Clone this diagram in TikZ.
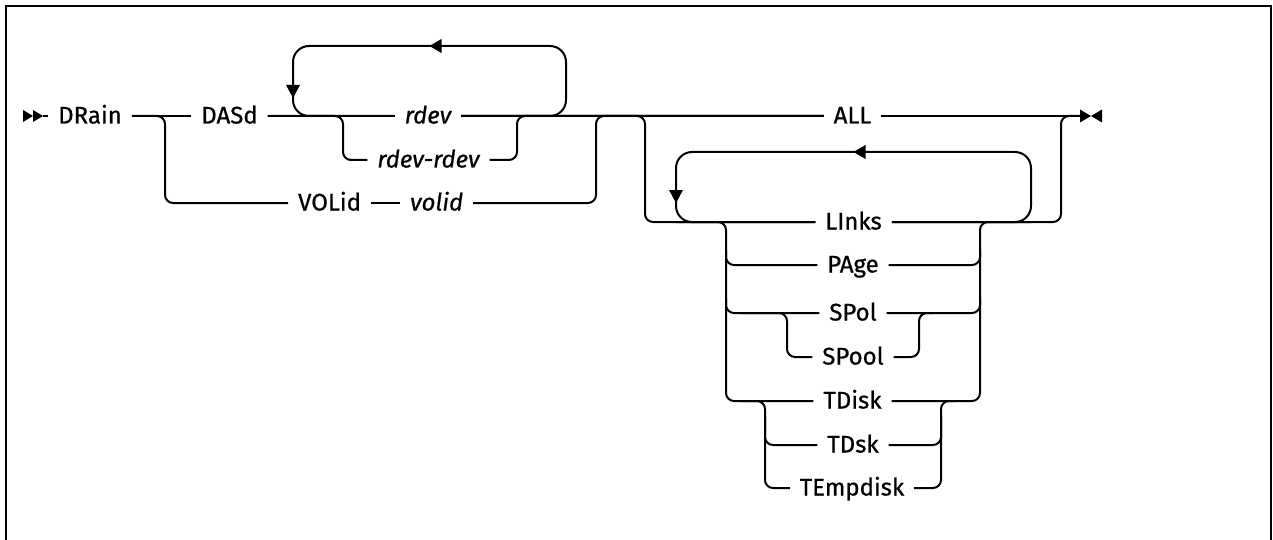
\documentclass[tikz,border=0pt]{standalone}
\usepackage{fontspec}
\newfontfamily\railfont{Fira Sans}[FakeBold=0.7]
\usetikzlibrary{calc}
\begin{document}
\begin{tikzpicture}[x=1pt,y=-1pt,line width=2pt,
  lbl/.style={font=\railfont\fontsize{24}{28}\selectfont, inner xsep=9pt, inner ysep=0pt, text height=15pt, text depth=0pt},
  var/.style={lbl, font=\railfont\fontsize{24}{28}\selectfont\itshape},
  rail/.style={draw, rounded corners=8pt},
  loopline/.style={draw, rounded corners=16pt}]
\clip (0,0) rectangle (1273,540);
\useasboundingbox (0,0) rectangle (1273,540);
% frame
\draw[line width=2.4pt] (6,560) -- (6,6) -- (1271,6) -- (1271,560);
% text nodes
\node[lbl] (drain) at (90,116) {DRain};
\node[lbl] (dasd) at (229.5,116) {DASd};
\node[var] (rdev) at (428,116) {rdev};
\node[var] (rdevr) at (428.5,160) {rdev-rdev};
\node[lbl, anchor=east] (volid) at (371,203) {VOLid};
\node[var, anchor=west] (volidv) at (400,203) {volid};
\node[lbl] (all) at (852.5,116) {ALL};
\node[lbl] (links) at (853.5,222) {LInks};
\node[lbl] (page) at (853,265) {PAge};
\node[lbl] (spol) at (853,313) {SPol};
\node[lbl] (spool) at (853,357) {SPool};
\node[lbl] (tdisk) at (852.5,401) {TDisk};
\node[lbl] (tdsk) at (853,445) {TDsk};
\node[lbl] (temp) at (852,488) {TEmpdisk};
% junction coordinates
\coordinate (start) at (43,116);
\coordinate (end) at (1080,116);
\coordinate (j1) at (165,116);
\coordinate (j2) at (596,116);
\coordinate (j3) at (343,116);
\coordinate (j4) at (517,116);
\coordinate (j5) at (645,116);
\coordinate (j6) at (1061,116);
\coordinate (l1a) at (293,46);
\coordinate (l1b) at (566,46);
\coordinate (l2a) at (676,152);
\coordinate (l2b) at (1031,152);
\coordinate (k1) at (726,222);
\coordinate (k2) at (980,222);
\coordinate (s1) at (787,313);
\coordinate (s2) at (919,313);
\coordinate (t1) at (765,401);
\coordinate (t2) at (941,401);
% start marker
\fill (23,110) -- (23,122) -- (33,116) -- cycle;
\fill (33,110) -- (33,122) -- (start) -- cycle;
% main line
\draw (start) -- (drain.west);
\draw (drain.east) -- (dasd.west);
\draw (dasd.east) -- (rdev.west);
\draw (rdev.east) -- (all.west);
\draw (all.east) -- (end);
% end marker
\fill (end) ++(0,-6.5) -- ++(0,13) -- ++(11,-6.5) -- cycle;
\fill (end) ++(22,-6.5) -- ++(0,13) -- ++(-11,-6.5) -- cycle;
% DASd / VOLid choice
\draw[rail] (drain.east) -- (j1) |- (volid.west);
\draw (volid.east) -- (volidv.west);
\draw[rail] (volidv.east) -| (j2) -- (all.west);
% repeat loop over rdev
\draw[loopline] (rdev.east) -| (l1b) -- (l1a) |- (rdev.west);
\fill ($(l1a)!0.5!(l1b)$) -- ++(12,-7) -- ++(0,14) -- cycle;
\fill ($(l1a|-rdev)+(0,-18)$) -- ++(-7,-13) -- ++(14,0) -- cycle;
% rdev / rdev-rdev choice
\draw[rail] (dasd.east) -- (j3) |- (rdevr.west);
\draw[rail] (rdevr.east) -| (j4) -- (all.west);
% ALL / list choice
\draw[rail] (rdev.east) -- (j5) |- (links.west);
\draw[rail] (links.east) -| (j6) -- (end);
% repeat loop over list
\draw[loopline] (links.east) -| (l2b) -- (l2a) |- (links.west);
\fill ($(l2a)!0.5!(l2b)$) -- ++(12,-7) -- ++(0,14) -- cycle;
\fill ($(l2a|-links)+(0,-19)$) -- ++(-7,-13) -- ++(14,0) -- cycle;
% stack
\draw[rail] (l2a|-links) -- (k1) |- (tdisk.west);
\draw[rail] (tdisk.east) -| (k2) -- (l2b|-links);
\draw[rail] ($(k1|-page)+(0,-15)$) |- (page.west);
\draw[rail] (page.east) -| ($(k2|-page)+(0,-15)$);
\draw[rail] ($(k1|-spol)+(0,-15)$) |- (spol.west);
\draw[rail] (spol.east) -| ($(k2|-spol)+(0,-15)$);
% SPol / SPool
\draw[rail] ($(k1|-spol)+(15,0)$) -- (s1) |- (spool.west);
\draw[rail] (spool.east) -| (s2) -- ($(s2)+(15,0)$);
% TDisk / TDsk / TEmpdisk
\draw[rail] ($(k1|-tdisk)+(15,0)$) -- (t1) |- (temp.west);
\draw[rail] (temp.east) -| (t2) -- ($(t2)+(15,0)$);
\draw[rail] ($(t1)+(0,15)$) |- (tdsk.west);
\draw[rail] (tdsk.east) -| ($(t2)+(0,15)$);
\end{tikzpicture}
\end{document}
